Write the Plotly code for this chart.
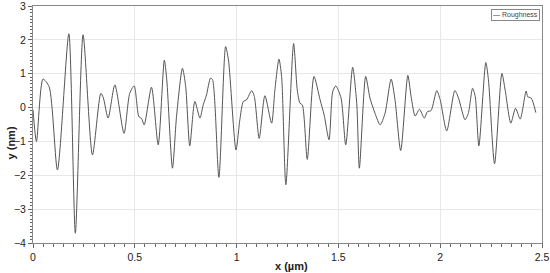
import plotly.graph_objects as go

x_um = [0.000, 0.017, 0.049, 0.079, 0.120, 0.176, 0.208, 0.246, 0.292, 0.333,
        0.345, 0.369, 0.402, 0.447, 0.475, 0.497, 0.520, 0.533, 0.546, 0.582,
        0.615, 0.645, 0.657, 0.685, 0.705, 0.734, 0.750, 0.770, 0.795, 0.820,
        0.836, 0.852, 0.872, 0.882, 0.913, 0.946, 0.960, 0.997, 1.016, 1.033,
        1.049, 1.074, 1.087, 1.111, 1.139, 1.172, 1.188, 1.208, 1.221, 1.242,
        1.280, 1.298, 1.311, 1.323, 1.347, 1.380, 1.410, 1.430, 1.454, 1.472,
        1.487, 1.513, 1.536, 1.570, 1.590, 1.603, 1.634, 1.655, 1.680, 1.705,
        1.729, 1.759, 1.778, 1.806, 1.841, 1.857, 1.877, 1.898, 1.922, 1.937,
        1.955, 1.983, 2.000, 2.032, 2.072, 2.090, 2.122, 2.138, 2.159, 2.172,
        2.190, 2.224, 2.237, 2.267, 2.303, 2.319, 2.347, 2.370, 2.393, 2.422,
        2.430, 2.447, 2.470]
y_nm = [-0.07, -1.00, 0.84, 0.62, -1.84, 2.18, -3.71, 2.15, -1.40, 0.42,
        0.30, -0.31, 0.67, -0.76, 0.42, 0.64, -0.27, -0.32, -0.51, 0.60,
        -1.10, 1.40, 0.82, -1.79, -0.26, 1.16, 0.62, -1.13, 0.18, -0.31,
        0.08, 0.37, 0.87, 0.82, -2.06, 1.80, 1.41, -1.25, -0.36, 0.18,
        0.23, 0.50, 0.33, -0.91, 0.35, -0.46, 0.52, 1.43, 0.92, -2.28,
        1.89, 0.52, 0.13, 0.08, -1.53, 0.92, 0.23, -0.22, -0.95, 0.47,
        0.64, 0.28, -1.10, 1.19, 0.13, -1.79, 0.92, 0.28, -0.17, -0.51,
        -0.17, 0.84, 0.23, -1.27, 0.95, 0.33, -0.25, -0.05, -0.31, -0.12,
        -0.09, 0.50, 0.23, -0.69, 0.50, 0.28, -0.36, -0.17, 0.57, 0.33,
        -1.13, 1.33, 0.82, -1.66, 1.01, 0.52, -0.46, -0.02, -0.34, 0.49,
        0.32, 0.28, -0.15]

series_name = "Roughness"
x_title = "x (µm)"
y_title = "y (nm)"

fig = go.Figure()
fig.add_trace(go.Scatter(
    x=x_um, y=y_nm, mode="lines", name=series_name,
    line=dict(color="#555555", width=1.0, shape="spline", smoothing=0.7),
    showlegend=False,
))

fam = "Liberation Sans, Arial, sans-serif"
fig.update_layout(
    width=550, height=273,
    margin=dict(l=33, r=8, t=6, b=30, autoexpand=False),
    paper_bgcolor="white", plot_bgcolor="white",
    font=dict(family=fam, size=11, color="#222"),
    showlegend=False,
)
common = dict(
    showgrid=True, gridcolor="#e8e8e8", gridwidth=1,
    showline=True, linecolor="#888", linewidth=1, mirror=True,
    ticks="outside", ticklen=4, tickcolor="#666",
    zeroline=False, automargin=False, ticklabeloverflow="allow",
    tickfont=dict(size=10.5, color="#222"),
)
fig.update_xaxes(
    range=[0, 2.5], dtick=0.5, tick0=0,
    minor=dict(dtick=0.05, ticks="outside", ticklen=3, tickcolor="#666", showgrid=False),
    **common,
)
fig.update_yaxes(
    range=[-4, 3], dtick=1, tick0=0,
    minor=dict(dtick=0.1, ticks="outside", ticklen=2, tickcolor="#666", showgrid=False),
    **common,
)

# axis titles
fig.add_annotation(text="<b>" + x_title + "</b>", xref="paper", yref="paper",
                   x=0.508, y=0, yshift=-23, xanchor="center", yanchor="middle",
                   showarrow=False, font=dict(size=11, color="#222", family=fam))
fig.add_annotation(text="<b>" + y_title + "</b>", xref="paper", yref="paper",
                   x=0, xshift=-22, y=0.42, textangle=-90, xanchor="center", yanchor="middle",
                   showarrow=False, font=dict(size=11, color="#222", family=fam))
# legend box
fig.add_annotation(text="\u2014 " + series_name, xref="paper", yref="paper",
                   x=0.9965, y=0.987, xanchor="right", yanchor="top",
                   showarrow=False, bgcolor="white", bordercolor="#888", borderwidth=1,
                   borderpad=1, font=dict(size=7, color="#444", family=fam))

fig.write_html("out.html", config={"displayModeBar": False},
               post_script="document.body.style.margin='0';document.body.style.overflow='hidden';")
